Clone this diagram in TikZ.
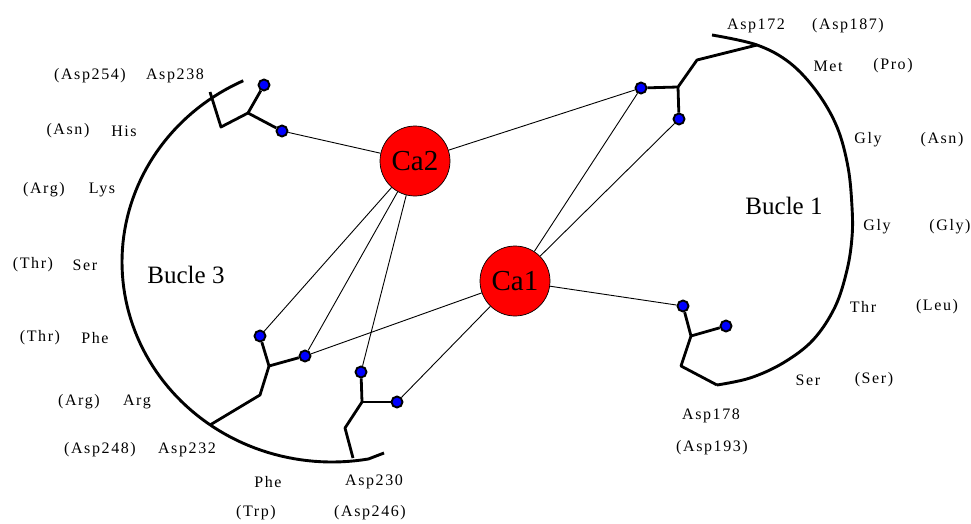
\documentclass[tikz,border=0pt]{standalone}
\usepackage{fontspec}
\setmainfont{Liberation Serif}
\newfontfamily\lblfont[LetterSpace=10]{Liberation Serif}
\begin{document}
\begin{tikzpicture}[x=1pt,y=-1pt,
  loopline/.style={line width=2.9pt, line join=round},
  chain/.style={line width=2.8pt, line join=round},
  link/.style={line width=0.9pt},
  site/.style={circle, fill=blue, draw=black, line width=1.9pt, minimum size=11pt, inner sep=0pt},
  ion/.style={circle, fill=red, draw=black, line width=0.7pt, minimum size=70pt, inner sep=0pt,
    font=\fontsize{29}{29}\selectfont},
  res/.style={font=\lblfont\fontsize{16}{16}\selectfont, inner sep=0pt},
  bucle/.style={font=\fontsize{25}{25}\selectfont, inner sep=0pt}]
\useasboundingbox (0,0) rectangle (971,524);

% loop 3 (left): its tail end, then the elliptical arc up to the top
\coordinate (t3) at (384,453);
\draw[loopline] (t3) -- plot[domain=80:245, samples=90] ({332+210*cos(\x)},{262+200*sin(\x)});
% loop 1 (right)
\draw[loopline] plot[smooth, tension=0.6] coordinates {(712,35) (757,45) (790,63) (817,92) (837,127)
  (848,167) (852,207) (852,237) (847,270) (835,307) (813,340) (783,363) (750,378) (717,385)};

% calcium ions
\node[ion] (ca2) at (415,161) {Ca2};
\node[ion] (ca1) at (515,281) {Ca1};

% coordinating oxygens
\node[site] (s1) at (264,85) {};
\node[site] (s2) at (282,131) {};
\node[site] (s3) at (260,336) {};
\node[site] (s4) at (305,356) {};
\node[site] (s5) at (361,372) {};
\node[site] (s6) at (397,402) {};
\node[site] (s7) at (641,88) {};
\node[site] (s8) at (679,119) {};
\node[site] (s9) at (683,306) {};
\node[site] (s10) at (726,326) {};

% side-chain joints
\coordinate (a1) at (210,92);  \coordinate (a2) at (221,127); \coordinate (a3) at (248,113);
\coordinate (b1) at (210,425); \coordinate (b2) at (260,395); \coordinate (b3) at (269,366);
\coordinate (c1) at (353,458); \coordinate (c2) at (345,428); \coordinate (c3) at (362,402);
\coordinate (d1) at (757,45);  \coordinate (d2) at (697,60);  \coordinate (d3) at (678,87);
\coordinate (e1) at (717,385); \coordinate (e2) at (681,366); \coordinate (e3) at (691,336);

% side chains
\draw[chain] (a1) -- (a2) -- (a3) -- (s1); \draw[chain] (a3) -- (s2);
\draw[chain] (b1) -- (b2) -- (b3) -- (s3); \draw[chain] (b3) -- (s4);
\draw[chain] (c1) -- (c2) -- (c3) -- (s5); \draw[chain] (c3) -- (s6);
\draw[chain] (d1) -- (d2) -- (d3) -- (s7); \draw[chain] (d3) -- (s8);
\draw[chain] (e1) -- (e2) -- (e3) -- (s9); \draw[chain] (e3) -- (s10);

% coordination bonds
\draw[link] (s2) -- (ca2);
\draw[link] (ca2) -- (s7);
\draw[link] (ca2) -- (s3);
\draw[link] (ca2) -- (s4);
\draw[link] (ca2) -- (s5);
\draw[link] (ca1) -- (s4);
\draw[link] (ca1) -- (s6);
\draw[link] (ca1) -- (s7);
\draw[link] (ca1) -- (s8);
\draw[link] (ca1) -- (s9);

% loop names
\node[bucle] (l3) at (186,275) {Bucle 3};
\node[bucle] (l1) at (784,206) {Bucle 1};

% residue labels, loop 3
\node[res] (r1a) at (90,76) {(Asp254)};  \node[res] (r1b) at (175,76) {Asp238};
\node[res] (r2a) at (68,131) {(Asn)};    \node[res] (r2b) at (124,131) {His};
\node[res] (r3a) at (44,190) {(Arg)};    \node[res] (r3b) at (102,190) {Lys};
\node[res] (r4a) at (33,265) {(Thr)};    \node[res] (r4b) at (85,265) {Ser};
\node[res] (r5a) at (40,338) {(Thr)};    \node[res] (r5b) at (95,338) {Phe};
\node[res] (r6a) at (79,402) {(Arg)};    \node[res] (r6b) at (137,402) {Arg};
\node[res] (r7a) at (100,450) {(Asp248)}; \node[res] (r7b) at (187,450) {Asp232};
\node[res] (r8a) at (268,482) {Phe};     \node[res] (r8b) at (374,482) {Asp230};
\node[res] (r9a) at (256,513) {(Trp)};   \node[res] (r9b) at (370,513) {(Asp246)};

% residue labels, loop 1
\node[res] (q1a) at (756,26) {Asp172};   \node[res] (q1b) at (848,26) {(Asp187)};
\node[res] (q2a) at (828,66) {Met};      \node[res] (q2b) at (893,66) {(Pro)};
\node[res] (q3a) at (868,140) {Gly};     \node[res] (q3b) at (942,140) {(Asn)};
\node[res] (q4a) at (877,227) {Gly};     \node[res] (q4b) at (950,227) {(Gly)};
\node[res] (q5a) at (863,307) {Thr};     \node[res] (q5b) at (937,307) {(Leu)};
\node[res] (q6a) at (808,380) {Ser};     \node[res] (q6b) at (874,380) {(Ser)};
\node[res] (q7a) at (711,416) {Asp178};
\node[res] (q7b) at (712,448) {(Asp193)};
\end{tikzpicture}
\end{document}
